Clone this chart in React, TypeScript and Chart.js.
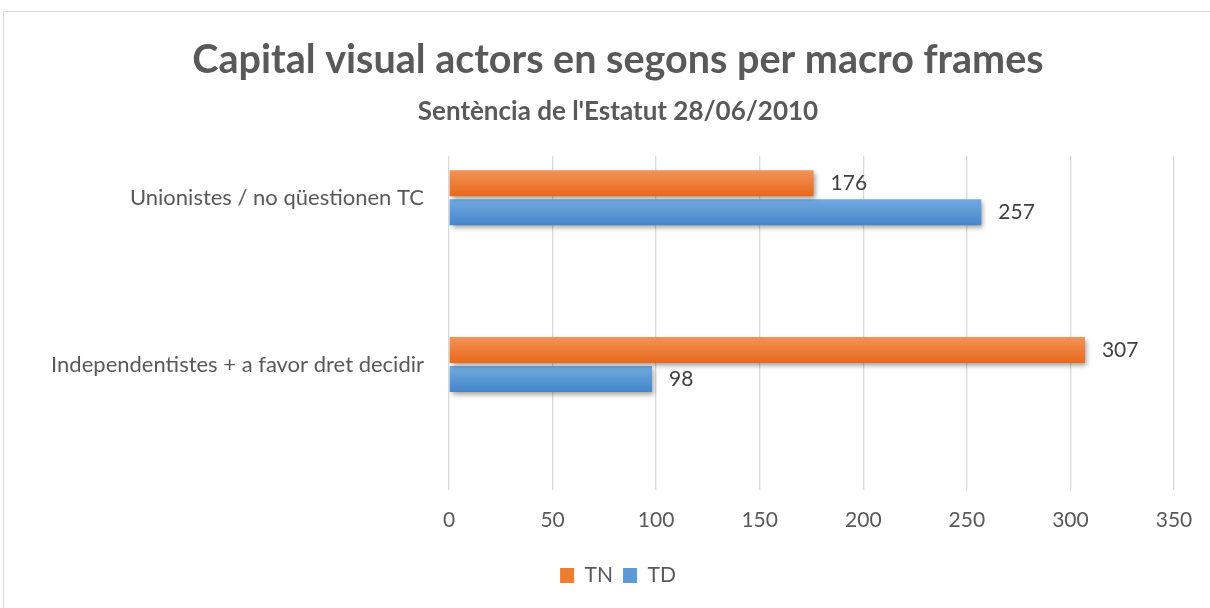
import { useEffect, useRef } from 'react';
import { Chart, registerables, CategoryScale } from 'chart.js';

Chart.register(...registerables);

// Category scale whose bands are lifted toward the top of the plot (Excel-like placement)
class LiftedCategoryScale extends CategoryScale {
  static id = 'liftedCategory';
  getPixelForDecimal(decimal: number) {
    return super.getPixelForDecimal(decimal) - ((this.options as any).lift || 0);
  }
}
Chart.register(LiftedCategoryScale as any);

const categories = ['Unionistes / no qüestionen TC', 'Independentistes + a favor dret decidir'];
const seriesNames = ['TN', 'TD'];
const tnValues = [176, 307];
const tdValues = [257, 98];
const xMin = 0;
const xMax = 350;
const xStep = 50;
const titleText = 'Capital visual actors en segons per macro frames';
const subtitleText = "Sentència de l'Estatut 28/06/2010";

const solidColors = ['#ED7D31', '#5B9BD5'];
const gradientStops = [
  ['#F39258', '#E7691B'],
  ['#73AADF', '#4386CA'],
];

const FONT = 'Lato';

const barStyle = {
  id: 'barStyle',
  beforeDatasetsDraw(chart: any) {
    const ctx = chart.ctx as CanvasRenderingContext2D;
    chart.data.datasets.forEach((_ds: any, i: number) => {
      const meta = chart.getDatasetMeta(i);
      const stops = gradientStops[i];
      meta.data.forEach((el: any) => {
        const { y, height } = el.getProps(['y', 'height'], true);
        const g = ctx.createLinearGradient(0, y - height / 2, 0, y + height / 2);
        g.addColorStop(0, stops[0]);
        g.addColorStop(1, stops[1]);
        el.options.backgroundColor = g;
      });
    });
    ctx.save();
    ctx.shadowColor = 'rgba(0,0,0,0.38)';
    ctx.shadowBlur = 5;
    ctx.shadowOffsetX = 2;
    ctx.shadowOffsetY = 3;
  },
  afterDatasetsDraw(chart: any) {
    const ctx = chart.ctx as CanvasRenderingContext2D;
    ctx.restore();
    ctx.save();
    ctx.font = `21px ${FONT}`;
    ctx.fillStyle = '#404040';
    ctx.textAlign = 'left';
    ctx.textBaseline = 'middle';
    chart.data.datasets.forEach((ds: any, i: number) => {
      chart.getDatasetMeta(i).data.forEach((el: any, j: number) => {
        const { x, y } = el.getProps(['x', 'y'], true);
        ctx.fillText(String(ds.data[j]), x + 17, y);
      });
    });
    ctx.restore();
  },
};

export default function App() {
  const canvasRef = useRef<HTMLCanvasElement | null>(null);

  useEffect(() => {
    const canvas = canvasRef.current;
    if (!canvas) return;
    Chart.defaults.font.family = FONT;
    const valueSets = [tnValues, tdValues];
    const chart = new Chart(canvas, {
      type: 'bar',
      data: {
        labels: categories,
        datasets: seriesNames.map((name, i) => ({
          label: name,
          data: valueSets[i],
          backgroundColor: () => solidColors[i],
          borderWidth: 0,
          categoryPercentage: 0.347,
          barPercentage: 0.897,
        })),
      },
      options: {
        indexAxis: 'y',
        animation: false,
        responsive: false,
        maintainAspectRatio: false,
        layout: { padding: { left: 0, right: 0, top: 0, bottom: 12 } },
        plugins: {
          title: {
            display: true,
            text: titleText,
            color: '#595959',
            font: { family: FONT, size: 39.5, weight: 'bold', lineHeight: 1.2 },
            padding: { top: 36.3, bottom: 0 },
          },
          subtitle: {
            display: true,
            text: subtitleText,
            color: '#595959',
            font: { family: FONT, size: 26, weight: 'bold', lineHeight: 1.2 },
            padding: { top: 12, bottom: 29.4 },
          },
          legend: {
            position: 'bottom',
            labels: {
              boxWidth: 14,
              boxHeight: 15,
              padding: 10,
              color: '#595959',
              font: { family: FONT, size: 21 },
            },
          },
          tooltip: { enabled: false },
        },
        scales: {
          x: {
            min: xMin,
            max: xMax,
            ticks: { stepSize: xStep, color: '#595959', font: { family: FONT, size: 21 }, padding: 18 },
            grid: { color: '#d9d9d9', lineWidth: 1.3, drawTicks: false },
            border: { display: false },
            afterFit: (s: any) => { s.height = 65; },
          },
          y: {
            type: 'liftedCategory' as any,
            lift: 42,
            ticks: { color: '#595959', font: { family: FONT, size: 22 }, padding: 17 },
            grid: { display: false },
            border: { display: false },
            afterFit: (s: any) => { s.width = 449; },
          } as any,
          rightSpace: {
            type: 'linear',
            position: 'right',
            ticks: { display: false },
            grid: { display: false },
            border: { display: false },
            afterFit: (s: any) => { s.width = 62; },
          } as any,
        },
      },
      plugins: [barStyle],
    } as any);
    return () => chart.destroy();
  }, []);

  return (
    <div style={{ position: 'fixed', left: 0, top: 0, width: 1210, height: 608, overflow: 'hidden', background: '#fff' }}>
      <div style={{ position: 'absolute', left: 3, top: 11, width: 1260, height: 640, border: '1px solid #d9d9d9', boxSizing: 'border-box' }} />
      <canvas ref={canvasRef} width={1236} height={608} style={{ position: 'absolute', left: 0, top: 0, width: 1236, height: 608 }} />
    </div>
  );
}
